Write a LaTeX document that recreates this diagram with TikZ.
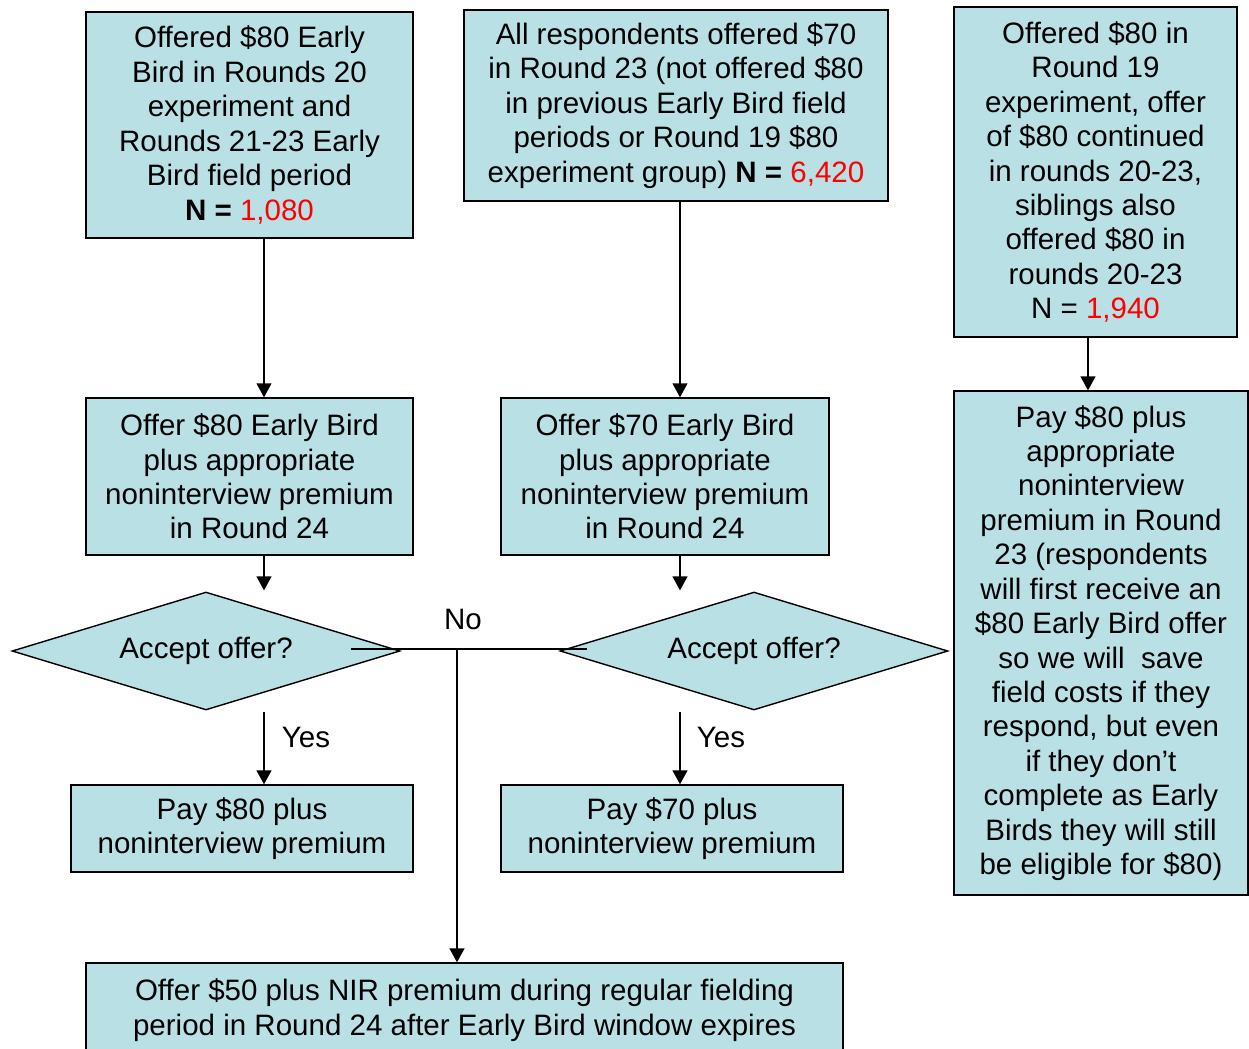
\documentclass[tikz,border=0pt]{standalone}
\usepackage{fontspec}
\setmainfont{Liberation Sans}
\usetikzlibrary{shapes.geometric,arrows.meta}
\definecolor{boxfill}{RGB}{185,224,228}
\tikzset{
	box/.style={draw, thick, fill=boxfill, rectangle, align=center, inner sep=0pt, font=\fontsize{16.8}{19.6}\selectfont},
	decide/.style={draw, thick, fill=boxfill, diamond, aspect=3.29, inner sep=0pt, minimum width=7.76cm, minimum height=2.36cm, font=\fontsize{16.8}{19.6}\selectfont},
	arr/.style={thick, -{Triangle[length=0.28cm,width=0.3cm]}},
	lbl/.style={font=\fontsize{16.8}{19.6}\selectfont}
}

\begin{document}
\begin{tikzpicture}[x=0.02cm,y=-0.02cm]
	\begin{scope}
\clip (0,0) rectangle (1249,1049);

\node [box, minimum width=6.54cm, minimum height=4.52cm] (early80) at (249.5,125) {Offered \$80 Early\\Bird in Rounds 20\\experiment and\\Rounds 21-23 Early\\Bird field period\\\textbf{N =} \textcolor{red}{1,080}};
\node [box, minimum width=8.48cm, minimum height=3.82cm] (all70) at (676,105.5) {All respondents offered \$70\\in Round 23 (not offered \$80\\in previous Early Bird field\\periods or Round 19 \$80\\experiment group) \textbf{N =} \textcolor{red}{6,420}};
\node [box, minimum width=5.66cm, minimum height=6.6cm] (round19) at (1095.5,172) {Offered \$80 in\\Round 19\\experiment, offer\\of \$80 continued\\in rounds 20-23,\\siblings also\\offered \$80 in\\rounds 20-23\\N = \textcolor{red}{1,940}};

\node [box, minimum width=6.54cm, minimum height=3.14cm] (offer80) at (249.5,476.5) {Offer \$80 Early Bird\\plus appropriate\\noninterview premium\\in Round 24};
\node [box, minimum width=6.56cm, minimum height=3.14cm] (offer70) at (665,476.5) {Offer \$70 Early Bird\\plus appropriate\\noninterview premium\\in Round 24};
\node [box, minimum width=5.88cm, minimum height=10.08cm] (pay23) at (1101,643) {Pay \$80 plus\\appropriate\\noninterview\\premium in Round\\23 (respondents\\will first receive an\\\$80 Early Bird offer\\so we will~ save\\field costs if they\\respond, but even\\if they don’t\\complete as Early\\Birds they will still\\be eligible for \$80)};

\node [decide] (acc80) at (206,651) {Accept offer?};
\node [decide] (acc70) at (754,651) {Accept offer?};

\node [box, minimum width=6.84cm, minimum height=1.74cm] (pay80) at (242,828.5) {Pay \$80 plus\\noninterview premium};
\node [box, minimum width=6.84cm, minimum height=1.74cm] (pay70) at (672,828.5) {Pay \$70 plus\\noninterview premium};
\node [box, minimum width=15.14cm, minimum height=1.88cm] (offer50) at (464.5,1010) {Offer \$50 plus NIR premium during regular fielding\\period in Round 24 after Early Bird window expires};

\coordinate (colL) at (264,0);
\coordinate (colM) at (680,0);
\coordinate (colR) at (1088,0);
\coordinate (nojoin) at (457,649);

\draw[arr] (early80.south -| colL) -- (offer80.north -| colL);
\draw[arr] (all70.south -| colM) -- (offer70.north -| colM);
\draw[arr] (round19.south -| colR) -- (pay23.north -| colR);

\draw[arr] (offer80.south -| colL) -- ([yshift=0.02cm]acc80.north -| colL);
\draw[arr] (offer70.south -| colM) -- ([yshift=0.02cm]acc70.north -| colM);

\draw[arr] ([yshift=-0.02cm]acc80.south -| colL) -- (pay80.north -| colL);
\draw[arr] ([yshift=-0.02cm]acc70.south -| colM) -- (pay70.north -| colM);
\node [lbl] (yes80) at (306,737) {Yes};
\node [lbl] (yes70) at (721,737) {Yes};

\draw[thick] ([xshift=-1cm, yshift=0.04cm]acc80.east) -- ([xshift=0.56cm, yshift=0.04cm]acc70.west);
\node [lbl] (nolbl) at (463,619) {No};
\draw[arr] (nojoin) -- (nojoin |- offer50.north);

	\end{scope}
\end{tikzpicture}
\end{document}
